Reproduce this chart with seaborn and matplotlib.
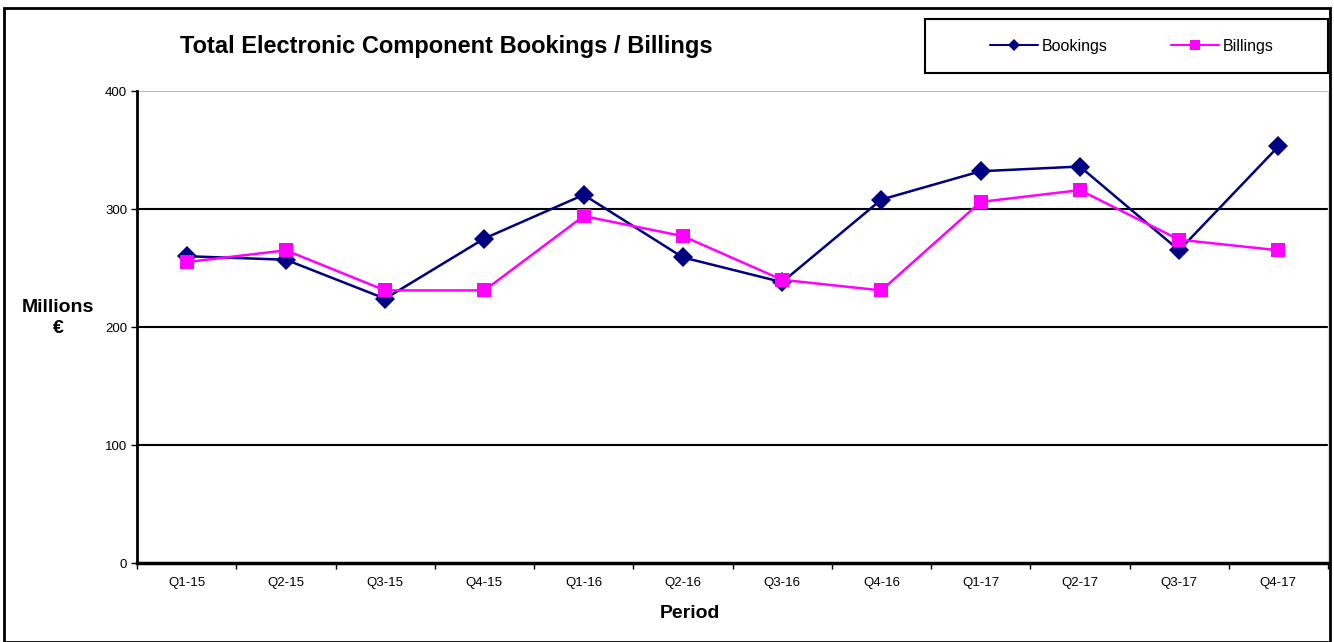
import pandas as pd
import numpy as np
import matplotlib.pyplot as plt
import seaborn as sns
from matplotlib.patches import Rectangle
from matplotlib.lines import Line2D

# --- dados ---
periods = ['Q1-15', 'Q2-15', 'Q3-15', 'Q4-15', 'Q1-16', 'Q2-16',
           'Q3-16', 'Q4-16', 'Q1-17', 'Q2-17', 'Q3-17', 'Q4-17']
bookings = [260, 257, 224, 275, 312, 259, 238, 308, 332, 336, 265, 353]
billings = [255, 265, 231, 231, 294, 277, 240, 231, 306, 316, 274, 265]

sns.set_style("white")
plt.rcParams['font.family'] = ['Liberation Sans', 'DejaVu Sans']
plt.rcParams['text.color'] = 'black'
plt.rcParams['axes.labelcolor'] = 'black'
plt.rcParams['xtick.color'] = 'black'
plt.rcParams['ytick.color'] = 'black'

df = pd.DataFrame({'period': periods * 2,
                   'value': bookings + billings,
                   'series': ['Bookings'] * len(periods) + ['Billings'] * len(periods)})

fig = plt.figure(figsize=(13.34, 6.42), dpi=100)
ax = fig.add_axes([137 / 1334, 1 - 563 / 642, (1328 - 137) / 1334, (563 - 91) / 642])

navy = '#000080'
magenta = '#FF00FF'
sns.lineplot(data=df, x='period', y='value', hue='series', style='series',
             markers={'Bookings': 'D', 'Billings': 's'}, dashes=False,
             palette={'Bookings': navy, 'Billings': magenta},
             markersize=10, linewidth=1.8, markeredgewidth=0, ax=ax, legend=False)

ax.set_xlim(-0.5, len(periods) - 0.5)
ax.set_ylim(0, 400)
ax.set_yticks([0, 100, 200, 300, 400])
for v in [100, 200, 300]:
    ax.axhline(v, color='black', lw=1.5, zorder=0)
ax.axhline(400, color='#bbbbbb', lw=1.5, zorder=0)

# ticks entre as categorias
ax.set_xticks(np.arange(len(periods)))
ax.set_xticklabels(periods, fontsize=9.5)
ax.set_xticks(np.arange(-0.5, len(periods), 1), minor=True)
ax.tick_params(axis='x', which='major', length=0, pad=10)
ax.tick_params(axis='x', which='minor', length=4, width=1, color='black', direction='out')
ax.tick_params(axis='y', length=4, width=1, color='black', direction='out', labelsize=9.5, pad=3)
ax.xaxis.set_ticks_position('bottom')
ax.yaxis.set_ticks_position('left')

ax.spines['left'].set_color('black')
ax.spines['left'].set_linewidth(2)
ax.spines['bottom'].set_color('black')
ax.spines['bottom'].set_linewidth(2.5)
ax.spines['top'].set_visible(False)
ax.spines['right'].set_color('#dddddd')
ax.spines['right'].set_linewidth(1)

ax.set_xlabel('')
ax.set_ylabel('')
fig.text(690 / 1334, 1 - 614 / 642, 'Period', fontsize=14, fontweight='bold',
         ha='center', va='center')
fig.text(58 / 1334, 1 - 318 / 642, 'Millions\n€', fontsize=14, fontweight='bold',
         ha='center', va='center', linespacing=1.25)

fig.text(180 / 1334, 1 - 47 / 642, 'Total Electronic Component Bookings / Billings',
         fontsize=17, fontweight='bold', ha='left', va='center')

# legenda em caixa
fig.patches.append(Rectangle((925 / 1334, 1 - 73 / 642), (1328 - 925) / 1334, 54 / 642,
                             transform=fig.transFigure, fill=False, edgecolor='black', lw=1.5))
handles = [Line2D([], [], color=navy, marker='D', markersize=6, lw=1.5, markeredgewidth=0),
           Line2D([], [], color=magenta, marker='s', markersize=7, lw=1.5, markeredgewidth=0)]
fig.legend(handles, ['Bookings', 'Billings'], loc='center', ncol=2, frameon=False,
           bbox_to_anchor=((925 + 1328) / 2 / 1334 + 0.004, 1 - 46 / 642), fontsize=11.5,
           handlelength=3.0, columnspacing=4.0, handletextpad=0.25)

# moldura externa
fig.patches.append(Rectangle((4 / 1334, 0 / 642), 1326 / 1334, (642 - 8) / 642,
                             transform=fig.transFigure, fill=False, edgecolor='black', lw=2))

fig.savefig('out.png', dpi=100)
